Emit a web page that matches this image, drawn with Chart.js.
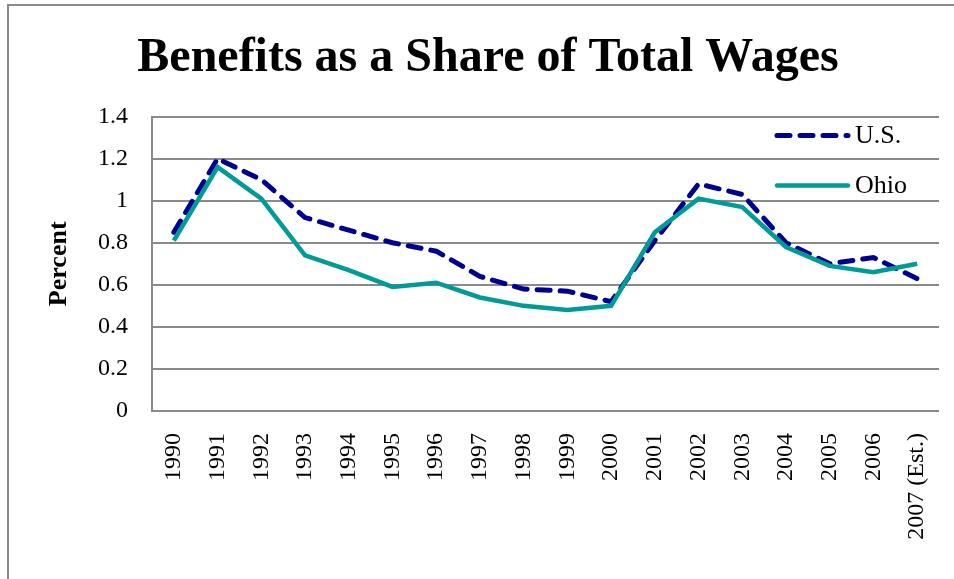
<!DOCTYPE html>
<html>
<head>
<meta charset="utf-8">
<script src="https://cdn.jsdelivr.net/npm/chart.js@4/dist/chart.umd.min.js"></script>
<style>
  html, body { margin: 0; padding: 0; background: #fff; }
  canvas { display: block; }
</style>
</head>
<body>
<canvas id="chart" width="954" height="579"></canvas>
<script>
const years = ["1990", "1991", "1992", "1993", "1994", "1995", "1996", "1997", "1998",
  "1999", "2000", "2001", "2002", "2003", "2004", "2005", "2006", "2007 (Est.)"];
const usShare = [0.85, 1.20, 1.10, 0.92, 0.86, 0.80, 0.76, 0.64, 0.58,
  0.57, 0.52, 0.81, 1.08, 1.03, 0.80, 0.70, 0.73, 0.63];
const ohioShare = [0.81, 1.16, 1.01, 0.74, 0.67, 0.59, 0.61, 0.54, 0.50,
  0.48, 0.50, 0.85, 1.01, 0.97, 0.78, 0.69, 0.66, 0.70];

const SERIF = "'Liberation Serif', 'Times New Roman', serif";
const GRID = "#8a8a8a";

// grey frame round the picture (left + top edge only)
const framePlugin = {
  id: "frame",
  beforeDraw(chart) {
    const ctx = chart.ctx;
    ctx.save();
    ctx.strokeStyle = GRID;
    ctx.lineWidth = 2;
    ctx.beginPath();
    ctx.moveTo(8, chart.height);
    ctx.lineTo(8, 5);
    ctx.lineTo(chart.width, 5);
    ctx.stroke();
    ctx.restore();
  },
};

// legend drawn inside the plot, top right
const insideLegend = {
  id: "insideLegend",
  afterDatasetsDraw(chart) {
    const ctx = chart.ctx;
    const a = chart.chartArea;
    const x0 = a.right - 162, x1 = a.right - 91;
    ctx.save();
    chart.data.datasets.forEach((ds, i) => {
      const y = a.top + 19 + i * 50;
      ctx.strokeStyle = ds.borderColor;
      ctx.lineWidth = ds.borderWidth;
      ctx.lineCap = "round";
      ctx.setLineDash(ds.borderDash || []);
      ctx.beginPath();
      ctx.moveTo(x0, y);
      ctx.lineTo(x1, y);
      ctx.stroke();
      ctx.setLineDash([]);
      ctx.fillStyle = "#000";
      ctx.font = `26px ${SERIF}`;
      ctx.textBaseline = "middle";
      ctx.fillText(ds.label, x1 + 7, y + 1);
    });
    ctx.restore();
  },
};

new Chart(document.getElementById("chart"), {
  type: "line",
  data: {
    labels: years,
    datasets: [
      {
        label: "U.S.", data: usShare, order: 2,
        borderColor: "#000090", borderWidth: 5, borderDash: [13, 10],
        borderCapStyle: "round", pointRadius: 0, tension: 0, fill: false,
      },
      {
        label: "Ohio", data: ohioShare, order: 1,
        borderColor: "#009B97", borderWidth: 4.5,
        pointRadius: 0, tension: 0, fill: false,
      },
    ],
  },
  options: {
    responsive: false, animation: false,
    layout: { padding: { left: 37, right: 15, top: 0, bottom: 0 } },
    plugins: {
      legend: { display: false },
      tooltip: { enabled: false },
      title: {
        display: true,
        text: "Benefits as a Share of Total Wages",
        color: "#000",
        font: { family: SERIF, size: 48, weight: "bold" },
        padding: { top: 30, bottom: 29 },
      },
    },
    scales: {
      x: {
        offset: true,
        grid: { display: false, drawTicks: false, offset: true },
        border: { display: false },
        ticks: {
          color: "#000", font: { family: SERIF, size: 24 },
          minRotation: 90, maxRotation: 90, autoSkip: false, padding: 22,
        },
        afterFit: (s) => {
          s.height = 168;
          s.paddingLeft = 0;
          s.paddingRight = 0;
        },
      },
      y: {
        min: 0, max: 1.4,
        grid: { color: GRID, lineWidth: 2, drawTicks: false },
        border: { display: true, color: GRID, width: 2 },
        ticks: {
          stepSize: 0.2, color: "#000", padding: 24,
          font: { family: SERIF, size: 24 },
          callback: (v) => String(Number(v.toFixed(1))),
        },
        title: {
          display: true, text: "Percent", color: "#000",
          font: { family: SERIF, size: 26, weight: "bold" },
          padding: { top: 7, bottom: 0 },
        },
        afterFit: (s) => { s.width = 115; },
      },
    },
  },
  plugins: [framePlugin, insideLegend],
});
</script>
</body>
</html>
